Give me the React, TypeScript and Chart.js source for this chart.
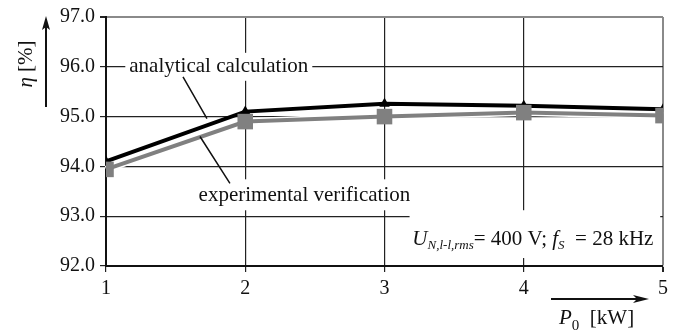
import React, { useEffect, useRef } from "react";
import { Chart, registerables } from "chart.js";

Chart.register(...registerables);

const powerKW = [1, 2, 3, 4, 5];
const analytical = [94.1, 95.1, 95.26, 95.22, 95.15];
const experimental = [93.94, 94.9, 95.0, 95.08, 95.02];
const yTicks = [92, 93, 94, 95, 96, 97];
const labelAnalytical = "analytical calculation";
const labelExperimental = "experimental verification";

const SERIF = '"Liberation Serif", "Times New Roman", serif';

const overlay = {
  id: "overlay",
  beforeDatasetsDraw(chart: any) {
    const { ctx, scales } = chart;
    const xs = scales.x, ys = scales.y;
    const px = (v: number) => xs.getPixelForValue(v);
    const py = (v: number) => ys.getPixelForValue(v);
    ctx.save();
    ctx.fillStyle = "#fff";
    ctx.font = `21px ${SERIF}`;
    const wa = ctx.measureText(labelAnalytical).width;
    const ca = px(1.81), ya = py(96.0);
    ctx.fillRect(ca - wa / 2 - 4, ya - 14, wa + 8, 28);
    const we = ctx.measureText(labelExperimental).width;
    const ce = px(2.425), ye = py(93.42);
    ctx.fillRect(ce - we / 2 - 4, ye - 16, we + 8, 31);
    ctx.fillRect(px(3.18), py(93.12), px(4.98) - px(3.18), py(92.16) - py(93.12));
    ctx.restore();
  },
  beforeDatasetDraw(chart: any, args: any) {
    if (args.index !== 0) return;
    const { ctx } = chart;
    const pts = args.meta.data;
    ctx.save();
    ctx.strokeStyle = "#fff";
    ctx.lineWidth = 7;
    ctx.lineJoin = "round";
    ctx.beginPath();
    pts.forEach((p: any, i: number) => (i ? ctx.lineTo(p.x, p.y) : ctx.moveTo(p.x, p.y)));
    ctx.stroke();
    ctx.restore();
  },
  afterDraw(chart: any) {
    const { ctx, scales } = chart;
    const xs = scales.x, ys = scales.y;
    const px = (v: number) => xs.getPixelForValue(v);
    const py = (v: number) => ys.getPixelForValue(v);
    ctx.save();
    ctx.fillStyle = "#111";
    ctx.strokeStyle = "#111";
    ctx.textBaseline = "middle";
    ctx.textAlign = "center";
    ctx.font = `21px ${SERIF}`;
    ctx.fillText(labelAnalytical, px(1.81), py(96.0));
    ctx.fillText(labelExperimental, px(2.425), py(93.42));
    ctx.lineWidth = 1.5;
    ctx.beginPath();
    ctx.moveTo(px(1.553), py(95.8));
    ctx.lineTo(px(1.725), py(94.96));
    ctx.moveTo(px(1.675), py(94.6));
    ctx.lineTo(px(1.89), py(93.66));
    ctx.stroke();

    ctx.textAlign = "left";
    ctx.textBaseline = "alphabetic";
    let x = px(3.2);
    const base = py(92.43);
    const seg = (t: string, font: string, dy = 0) => {
      ctx.font = font;
      ctx.fillText(t, x, base + dy);
      x += ctx.measureText(t).width;
    };
    seg("U", `italic 21px ${SERIF}`);
    seg("N,l-l,rms", `italic 13px ${SERIF}`, 4);
    seg("= 400 V; ", `21px ${SERIF}`);
    seg("f", `italic 21px ${SERIF}`);
    seg("S", `italic 13px ${SERIF}`, 4);
    seg("  = 28 kHz", `21px ${SERIF}`);

    ctx.save();
    ctx.translate(26, 64);
    ctx.rotate(-Math.PI / 2);
    ctx.textBaseline = "middle";
    const eta = "η";
    const tail = " [%]";
    ctx.font = `italic 21px ${SERIF}`;
    const w1 = ctx.measureText(eta).width;
    ctx.font = `21px ${SERIF}`;
    const w2 = ctx.measureText(tail).width;
    const sx = -(w1 + w2) / 2;
    ctx.textAlign = "left";
    ctx.font = `italic 21px ${SERIF}`;
    ctx.fillText(eta, sx, 0);
    ctx.font = `21px ${SERIF}`;
    ctx.fillText(tail, sx + w1, 0);
    ctx.restore();

    ctx.lineWidth = 2;
    ctx.beginPath();
    ctx.moveTo(46, 107);
    ctx.lineTo(46, 26);
    ctx.stroke();
    ctx.beginPath();
    ctx.moveTo(46, 16);
    ctx.lineTo(42, 30);
    ctx.lineTo(46, 27);
    ctx.lineTo(50, 30);
    ctx.closePath();
    ctx.fill();

    ctx.beginPath();
    ctx.moveTo(551, 299);
    ctx.lineTo(638, 299);
    ctx.stroke();
    ctx.beginPath();
    ctx.moveTo(649, 299);
    ctx.lineTo(633, 295);
    ctx.lineTo(637, 299);
    ctx.lineTo(633, 303);
    ctx.closePath();
    ctx.fill();

    x = 559;
    const b2 = 324;
    const seg2 = (t: string, font: string, dy = 0) => {
      ctx.font = font;
      ctx.fillText(t, x, b2 + dy);
      x += ctx.measureText(t).width;
    };
    seg2("P", `italic 21px ${SERIF}`);
    seg2("0", `15px ${SERIF}`, 6);
    seg2("  [kW]", `21px ${SERIF}`);
    ctx.restore();
  },
};

export default function App() {
  const ref = useRef<HTMLCanvasElement>(null);
  useEffect(() => {
    const chart = new Chart(ref.current!, {
      type: "line",
      data: {
        datasets: [
          {
            label: labelExperimental,
            data: powerKW.map((p, i) => ({ x: p, y: experimental[i] })),
            borderColor: "#808080",
            backgroundColor: "#808080",
            borderWidth: 4,
            pointStyle: "rect",
            pointRadius: 11,
            pointBorderWidth: 0,
            tension: 0,
          },
          {
            label: labelAnalytical,
            data: powerKW.map((p, i) => ({ x: p, y: analytical[i] })),
            borderColor: "#000",
            backgroundColor: "#000",
            borderWidth: 4,
            pointStyle: "triangle",
            pointRadius: 6,
            pointBorderWidth: 0,
            tension: 0,
          },
        ],
      },
      options: {
        responsive: false,
        animation: false,
        layout: { padding: { left: 0, top: 16, right: 18, bottom: 0 } },
        plugins: { legend: { display: false }, tooltip: { enabled: false } },
        scales: {
          x: {
            type: "linear",
            min: 1,
            max: 5,
            afterFit: (s: any) => { s.height = 68; },
            afterBuildTicks: (s: any) => { s.ticks = powerKW.map((v) => ({ value: v })); },
            ticks: {
              font: { family: SERIF, size: 20 },
              color: "#111",
              padding: 5,
              maxRotation: 0,
              callback: (v: any) => String(v),
            },
            grid: {
              color: (c: any) => (c.tick && c.tick.value === 5 ? "#8a8a8a" : "#222"),
              lineWidth: (c: any) => (c.tick && c.tick.value === 5 ? 2 : 1.2),
              tickLength: 6,
              tickColor: "#222",
              drawTicks: true,
            },
            border: { color: "#111", width: 2 },
          },
          y: {
            type: "linear",
            min: 92,
            max: 97,
            afterFit: (s: any) => { s.width = 106; },
            afterBuildTicks: (s: any) => { s.ticks = yTicks.map((v) => ({ value: v })); },
            ticks: {
              font: { family: SERIF, size: 20 },
              color: "#111",
              padding: 5,
              callback: (v: any) => Number(v).toFixed(1),
            },
            grid: {
              color: (c: any) => (c.tick && c.tick.value === 97 ? "#8a8a8a" : "#222"),
              lineWidth: (c: any) => (c.tick && c.tick.value === 97 ? 2 : 1.2),
              tickLength: 6,
              tickColor: "#222",
            },
            border: { color: "#111", width: 2 },
          },
        },
      },
      plugins: [overlay],
    } as any);
    return () => chart.destroy();
  }, []);
  return (
    <div style={{ position: "fixed", left: 0, top: 0, width: 681, height: 334, background: "#fff" }}>
      <canvas ref={ref} width={681} height={334} />
    </div>
  );
}
